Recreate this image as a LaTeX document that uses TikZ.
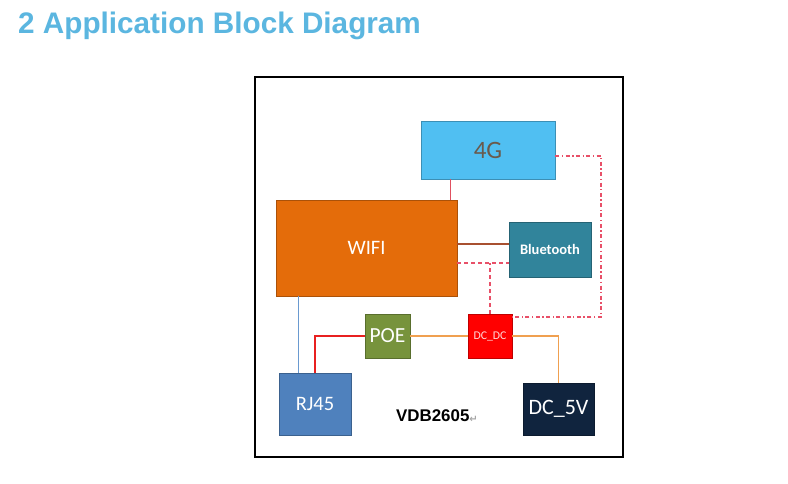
\documentclass[tikz,border=0pt]{standalone}
\usepackage{fontspec}
\setmainfont{Liberation Sans}
\newfontfamily\boxfont{Carlito}
\newfontfamily\symfont{DejaVu Sans}
\usetikzlibrary{calc}
\definecolor{titleblue}{HTML}{5BB6E0}
\definecolor{c4g}{HTML}{50BFF2}
\definecolor{c4gtxt}{HTML}{6A5A4C}
\definecolor{cwifi}{HTML}{E46C0A}
\definecolor{cbt}{HTML}{31849B}
\definecolor{cpoe}{HTML}{77933C}
\definecolor{cdcdc}{HTML}{FF0000}
\definecolor{crj}{HTML}{4F81BD}
\definecolor{cdc5}{HTML}{10243E}
\definecolor{lblue}{HTML}{6A9AD0}
\definecolor{lred}{HTML}{E82020}
\definecolor{lorange}{HTML}{F0A050}
\definecolor{lbrown}{HTML}{A85030}
\definecolor{lpink}{HTML}{E85068}
\definecolor{l4g}{HTML}{E05060}
\tikzset{
  blk/.style={draw=#1!75!black, fill=#1, line width=0.9pt, inner sep=0pt, anchor=center, text=white, font=\boxfont\fontsize{20.5}{22}\selectfont},
  conn/.style={line width=1.8pt},
  dsh/.style={line width=1.5pt, draw=lpink, dash pattern=on 4pt off 3pt},
  dshdot/.style={line width=1.3pt, draw=lpink, dash pattern=on 4pt off 2.5pt on 1.3pt off 2.5pt}
}
\begin{document}
\begin{tikzpicture}[x=1pt,y=-1pt]
\useasboundingbox[fill=white] (0,0) rectangle (788,483);
\node[anchor=base west, text=titleblue, font=\bfseries\fontsize{29.7}{32}\selectfont, inner sep=0pt] (title) at (18,33) {2 Application Block Diagram};
\draw[line width=2.4pt, black] (255,77) rectangle (623,457);
\node[blk=c4g, minimum width=134pt, minimum height=58pt, text=c4gtxt, font=\boxfont\fontsize{25}{27}\selectfont] (g4) at (488,150) {4G};
\node[blk=cwifi, minimum width=181pt, minimum height=96pt] (wifi) at (366.5,248) {WIFI};
\node[blk=cbt, minimum width=82pt, minimum height=55pt, font=\boxfont\bfseries\fontsize{14.5}{16}\selectfont] (bt) at (550,249.5) {Bluetooth};
\node[blk=cpoe, minimum width=45pt, minimum height=44pt, font=\boxfont\fontsize{21.5}{23}\selectfont] (poe) at (387.5,336) {POE};
\node[blk=cdcdc, minimum width=44pt, minimum height=44pt, text=red!15!white, font=\boxfont\fontsize{11.8}{13}\selectfont] (dcdc) at (490,336) {DC\_DC};
\node[blk=crj, minimum width=72pt, minimum height=62pt] (rj45) at (315,404) {RJ45};
\node[blk=cdc5, minimum width=71pt, minimum height=52pt, font=\boxfont\fontsize{22}{24}\selectfont] (dc5v) at (558.5,409) {DC\_5V};
\node[anchor=base, inner sep=0pt, font=\bfseries\fontsize{16.9}{18}\selectfont] (vdb) at (437,421) {VDB2605{\symfont\color{gray!70}\fontsize{10}{11}\selectfont\raisebox{-1pt}{↵}}};
\coordinate (cr) at (601,0);
% connectors
\draw[conn, draw=l4g, line width=1.5pt] ([xshift=30pt]g4.south west) -- ([xshift=30pt]g4.south west |- wifi.north);
\draw[conn, draw=lbrown] ([yshift=5.5pt]bt.west) -- ([yshift=5.5pt]bt.west -| wifi.east);
\draw[dsh] ([yshift=-13.5pt]wifi.east |- bt.west) -- ([yshift=-13.5pt]bt.west);
\draw[dsh] (dcdc.north) -- ([yshift=-13.5pt]dcdc.north |- bt.west);
\draw[dshdot] ([yshift=-6pt]g4.east) -- ([yshift=-6pt]g4.east -| cr) -- ([yshift=19pt]dcdc.east -| cr) -- ([yshift=19pt]dcdc.east);
\draw[conn, draw=lblue] ([xshift=20pt]rj45.north west) -- ([xshift=20pt]rj45.north west |- wifi.south);
\draw[conn, draw=lred] (rj45.north) |- (poe.west);
\draw[conn, draw=lorange] (poe.east) -- (dcdc.west);
\draw[conn, draw=lorange] (dcdc.east) -| (dc5v.north);
\end{tikzpicture}
\end{document}
